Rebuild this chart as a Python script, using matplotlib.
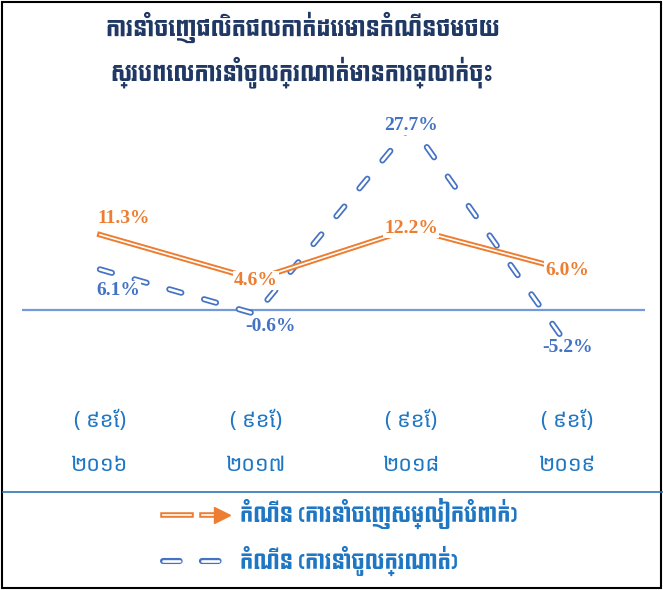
import matplotlib
matplotlib.use("Agg")
import matplotlib.pyplot as plt
import matplotlib.patheffects as pe
from matplotlib import font_manager as fm
from matplotlib.lines import Line2D
from matplotlib.legend_handler import HandlerLine2D
from matplotlib.patches import Rectangle

# data
years = ['២០១៦', '២០១៧', '២០១៨', '២០១៩']
period = '( ៩ខែ)'
export_growth = [11.3, 4.6, 12.2, 6.0]
import_growth = [6.1, -0.6, 27.7, -5.2]
title_lines = ['ការនាំចេញផលិតផលកាត់ដេរមានកំណើនថមថយ',
               'ស្របពេលការនាំចូលក្រណាត់មានការធ្លាក់ចុះ']
legend_labels = ['កំណើន (ការនាំចេញសម្លៀកបំពាក់)',
                 'កំណើន (ការនាំចូលក្រណាត់)']

# label offsets in points (dx, dy)
export_offsets = [(17, 12), (0, -1), (0, 0), (0, 0)]
import_offsets = [(13, -15), (11, -9), (0, 0), (0, -2)]

ORANGE = '#ED7D31'
BLUE = '#4472C4'
NAVY = '#1F3864'
TEXTBLUE = '#1F77C4'

kfam = ['Noto Sans Khmer', 'DejaVu Sans']
headfam = ['Koulen', 'Noto Sans Khmer', 'DejaVu Sans']

plt.rcParams['lines.scale_dashes'] = False

fig = plt.figure(figsize=(6.63, 5.9), dpi=100)
ax = fig.add_axes([0.0332, 0.3898, 0.9397, 0.4237])
ax.set_xlim(-0.5, 3.5)
ax.set_ylim(-7.5, 30)
ax.axis('off')

x = range(len(years))
ax.axhline(0, color='#7699D8', lw=1.6, zorder=1)

dash = (0, (9, 17))
imp_fx = [pe.Stroke(linewidth=4.4, foreground=BLUE, capstyle='round'),
          pe.Stroke(linewidth=1.9, foreground='white', capstyle='round')]
exp_fx = [pe.Stroke(linewidth=4.0, foreground=ORANGE),
          pe.Stroke(linewidth=1.2, foreground='white')]

ax.plot(x, import_growth, color=BLUE, linestyle=dash, lw=4.4,
        path_effects=imp_fx, zorder=2)
ax.plot(x, export_growth, color=ORANGE, lw=4.0, path_effects=exp_fx, zorder=3)

lab_font = dict(family='Liberation Serif', fontweight='bold', fontsize=14)
for i, v in enumerate(export_growth):
    ax.annotate('%.1f%%' % v, (i, v), xytext=export_offsets[i],
                textcoords='offset points', ha='center', va='center',
                color=ORANGE, zorder=5,
                bbox=dict(boxstyle='square,pad=0.05', fc='white', ec='none'),
                **lab_font)
for i, v in enumerate(import_growth):
    ax.annotate('%.1f%%' % v, (i, v), xytext=import_offsets[i],
                textcoords='offset points', ha='center', va='center',
                color=BLUE, zorder=5,
                bbox=dict(boxstyle='square,pad=0.05', fc='white', ec='none'),
                **lab_font)

# category labels under the chart
for i, yr in enumerate(years):
    ax.annotate(period, (i, -7.5), xytext=(0, -44), textcoords='offset points',
                ha='center', va='center', color=TEXTBLUE, fontsize=15.5,
                family=kfam, annotation_clip=False)
    ax.annotate(yr, (i, -7.5), xytext=(0, -76), textcoords='offset points',
                ha='center', va='center', color=TEXTBLUE, fontsize=15.5,
                family=kfam, annotation_clip=False)

# title
fig.text(0.456, 0.953, title_lines[0], ha='center', va='center', color=NAVY,
         fontsize=16, family=headfam)
fig.text(0.456, 0.878, title_lines[1], ha='center', va='center', color=NAVY,
         fontsize=16, family=headfam)


class ArrowHandler(HandlerLine2D):
    def create_artists(self, legend, orig_handle, xdescent, ydescent,
                       width, height, fontsize, trans):
        y = height / 2 - ydescent
        x0 = -xdescent
        a = Line2D([x0, x0 + width * 0.42], [y, y], color=ORANGE, lw=4.0,
                   path_effects=exp_fx, transform=trans)
        b = Line2D([x0 + width * 0.58, x0 + width * 0.84], [y, y],
                   color=ORANGE, lw=4.0, path_effects=exp_fx, transform=trans)
        c = Line2D([x0 + width * 0.88], [y], marker='>', color=ORANGE,
                   markersize=11, linestyle='none', transform=trans)
        return [a, b, c]


h_exp = Line2D([], [], color=ORANGE, lw=4.0, path_effects=exp_fx)
h_imp = Line2D([], [], color=BLUE, lw=4.4, linestyle=(0, (12, 16)),
               path_effects=imp_fx)
leg = fig.legend([h_exp, h_imp], legend_labels, loc='center left',
                 bbox_to_anchor=(0.218, 0.09), frameon=False,
                 handlelength=3.2, handletextpad=0.5, labelspacing=0.8,
                 handler_map={h_exp: ArrowHandler()},
                 prop=fm.FontProperties(family=headfam, size=15))
for t in leg.get_texts():
    t.set_color(TEXTBLUE)

# legend box line and outer border
fig.add_artist(Line2D([0.005, 1], [0.166, 0.166], color='#2E75B6', lw=1.2,
                      transform=fig.transFigure))
fig.add_artist(Rectangle((0.003, 0.003), 0.994, 0.994, fill=False,
                         ec='black', lw=1.5, transform=fig.transFigure))

fig.savefig('out.png', dpi=100)
